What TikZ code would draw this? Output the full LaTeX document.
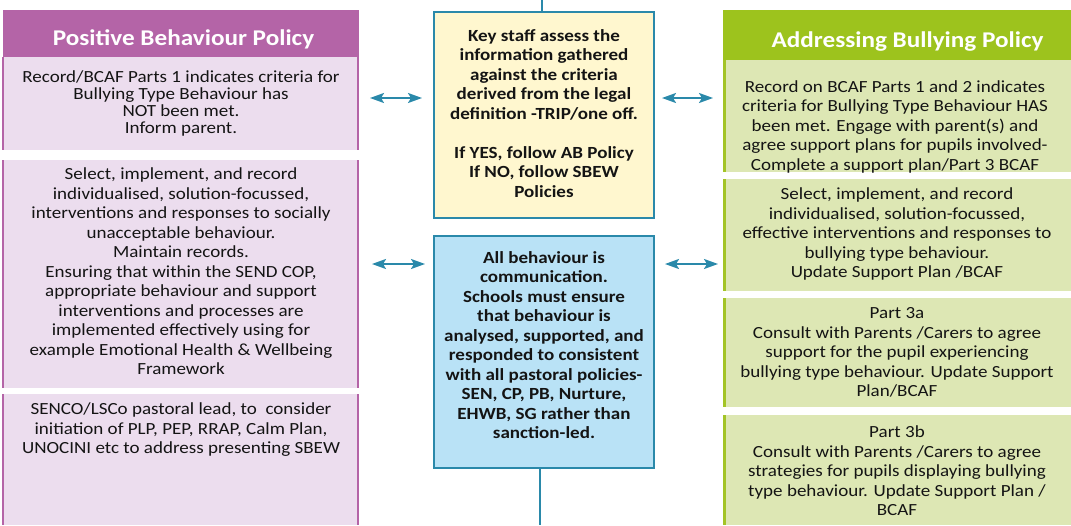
\documentclass[tikz,border=0pt]{standalone}
\usepackage{fontspec}
\setmainfont{Carlito}[FakeStretch=1.12]
\usetikzlibrary{arrows.meta}
\definecolor{pbhead}{HTML}{B464A7}
\definecolor{pbfill}{HTML}{ECDDEE}
\definecolor{abhead}{HTML}{9DC31D}
\definecolor{abfill}{HTML}{DDE7B4}
\definecolor{abline}{HTML}{A3C426}
\definecolor{keyfill}{HTML}{FFF7CF}
\definecolor{allfill}{HTML}{B9E2F6}
\definecolor{tealc}{HTML}{2A89AA}
\definecolor{txt}{HTML}{141414}
\begin{document}
\begin{tikzpicture}[x=1pt,y=-1pt,
  panel/.style={inner sep=0pt, outer sep=0pt, draw=none},
  lpanel/.style={panel, fill=pbfill},
  rpanel/.style={panel, fill=abfill},
  cpanel/.style={panel, draw=tealc, line width=2pt},
  sidetext/.style={align=center, text=txt, inner sep=0pt, font=\fontsize{17}{19.5}\selectfont},
  ctext/.style={align=center, text=txt, inner sep=0pt, font=\fontsize{17}{19.5}\selectfont\bfseries},
  headtext/.style={text=white, inner sep=0pt, anchor=base, font=\fontsize{22.5}{26}\selectfont\bfseries},
  pline/.style={draw=pbhead, line width=1.5pt},
  gline/.style={draw=abline, line width=3pt},
  tline/.style={draw=tealc, line width=2pt},
  arr/.style={draw=tealc, line width=2pt, {Stealth[length=14pt,width=10pt,inset=3pt]}-{Stealth[length=14pt,width=10pt,inset=3pt]}}
]
\useasboundingbox (0,0) rectangle (1071,525);
\fill[white] (0,0) rectangle (1071,525);

% ---- left column
\node[panel, fill=pbhead, minimum width=356pt, minimum height=47pt] (lh) at (181,33.5) {};
\node[lpanel, minimum width=355pt, minimum height=93pt] (l1) at (180.5,103.5) {};
\node[lpanel, minimum width=355pt, minimum height=228pt] (l2) at (180.5,274) {};
\node[lpanel, minimum width=355pt, minimum height=131pt] (l3) at (180.5,459.5) {};
\foreach \b in {l1,l2,l3}{
  \draw[pline] (\b.north west) -- (\b.south west);
  \draw[pline] (\b.north east) -- (\b.south east);
}
\node[headtext] (lht) at (183.5,45) {Positive Behaviour Policy};
\node[sidetext, font=\fontsize{17}{17}\selectfont] (tl1) at (181,103) {Record/BCAF Parts 1 indicates criteria for\\Bullying Type Behaviour has\\NOT been met.\\Inform parent.};
\node[sidetext] (tl2) at (181,271.5) {Select, implement, and record\\individualised, solution-focussed,\\interventions and responses to socially\\unacceptable behaviour.\\Maintain records.\\Ensuring that within the SEND COP,\\appropriate behaviour and support\\interventions and processes are\\implemented effectively using for\\example Emotional Health \& Wellbeing\\Framework};
\node[sidetext] (tl3) at (181,430) {SENCO/LSCo pastoral lead, to\ \ consider\\initiation of PLP, PEP, RRAP, Calm Plan,\\UNOCINI etc to address presenting SBEW};

% ---- right column
\node[panel, fill=abhead, minimum width=348pt, minimum height=50pt] (rh) at (897,35) {};
\node[rpanel, minimum width=348pt, minimum height=112pt] (r1) at (897,116) {};
\node[rpanel, minimum width=348pt, minimum height=112pt] (r2) at (897,235) {};
\node[rpanel, minimum width=348pt, minimum height=109pt] (r3) at (897,352.5) {};
\node[rpanel, minimum width=348pt, minimum height=110pt] (r4) at (897,470) {};
\foreach \b in {r1,r2,r3,r4}{
  \draw[gline] ([xshift=1.5pt]\b.north west) -- ([xshift=1.5pt]\b.south west);
}
\node[headtext] (rht) at (907.5,47) {Addressing Bullying Policy};
\node[sidetext] (tr1) at (895,126.5) {Record on BCAF Parts 1 and 2 indicates\\criteria for Bullying Type Behaviour HAS\\been met. Engage with parent(s) and\\agree support plans for pupils involved-\\Complete a support plan/Part 3 BCAF};
\node[sidetext] (tr2) at (897,234) {Select, implement, and record\\individualised, solution-focussed,\\effective interventions and responses to\\bullying type behaviour.\\Update Support Plan /BCAF};
\node[sidetext] (tr3) at (897,352.5) {Part 3a\\Consult with Parents /Carers to agree\\support for the pupil experiencing\\bullying type behaviour. Update Support\\Plan/BCAF};
\node[sidetext] (tr4) at (897,471) {Part 3b\\Consult with Parents /Carers to agree\\strategies for pupils displaying bullying\\type behaviour. Update Support Plan /\\BCAF};

% ---- centre column
\node[cpanel, fill=keyfill, minimum width=220pt, minimum height=206pt] (c1) at (544,115) {};
\node[cpanel, fill=allfill, minimum width=220pt, minimum height=232pt] (c2) at (544,352) {};
\node[ctext] (tc1) at (544,113.5) {Key staff assess the\\information gathered\\against the criteria\\derived from the legal\\definition -TRIP/one off.\\[19.5pt]If YES, follow AB Policy\\If NO, follow SBEW\\Policies};
\node[ctext] (tc2) at (544,345) {All behaviour is\\communication.\\Schools must ensure\\that behaviour is\\analysed, supported, and\\responded to consistent\\with all pastoral policies-\\SEN, CP, PB, Nurture,\\EHWB, SG rather than\\sanction-led.};

% ---- connectors
\coordinate (vt) at (542,0);
\coordinate (vb) at (540,525);
\draw[tline] (vt) -- (vt |- c1.north);
\draw[tline] (c2.south -| vb) -- (vb);

\coordinate (a1l) at (370,98);  \coordinate (a1r) at (422,98);
\coordinate (a2l) at (662,98);  \coordinate (a2r) at (713,98);
\coordinate (a3l) at (372,264); \coordinate (a3r) at (425,264);
\coordinate (a4l) at (665,264); \coordinate (a4r) at (718,264);
\draw[arr] (a1l) -- (a1r);
\draw[arr] (a2l) -- (a2r);
\draw[arr] (a3l) -- (a3r);
\draw[arr] (a4l) -- (a4r);
\end{tikzpicture}
\end{document}
